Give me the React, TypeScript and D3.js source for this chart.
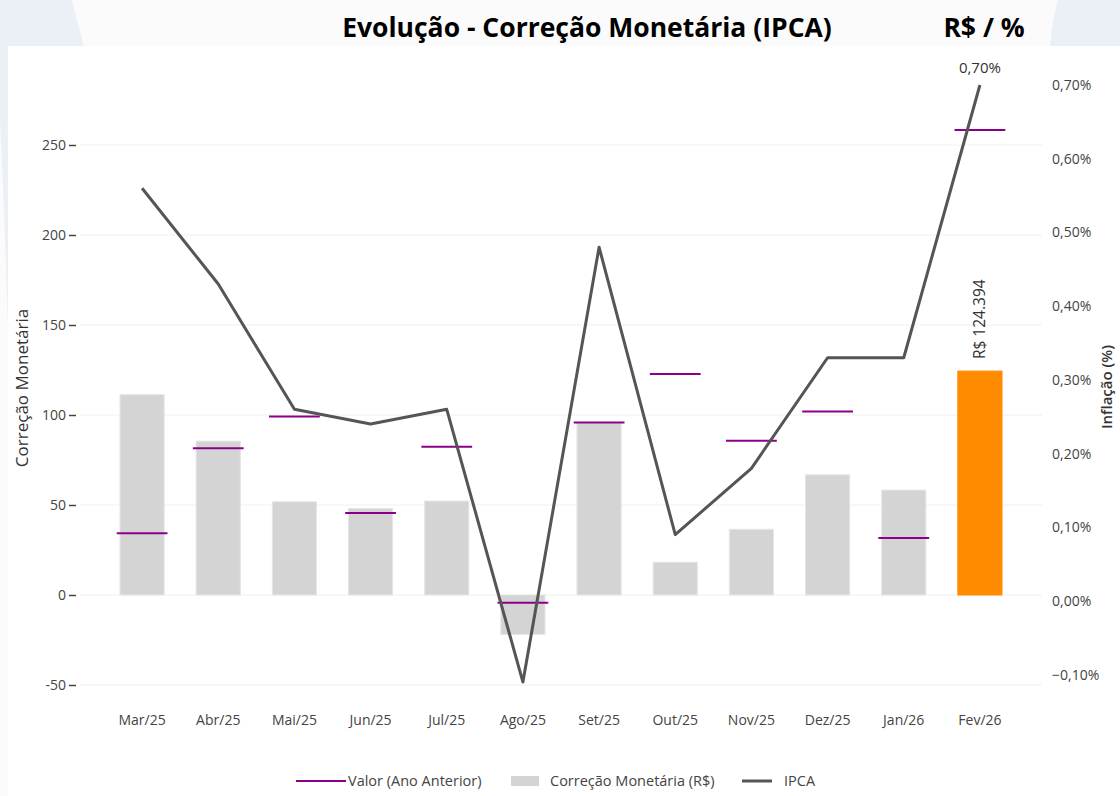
import React, { useRef, useEffect } from "react";
import * as d3 from "d3";

const months = ["Mar/25", "Abr/25", "Mai/25", "Jun/25", "Jul/25", "Ago/25", "Set/25", "Out/25", "Nov/25", "Dez/25", "Jan/26", "Fev/26"];
const correcao = [111.3, 85.5, 51.8, 48.1, 52.2, -21.9, 95.7, 18.2, 36.5, 66.8, 58.3, 124.394];
const anoAnterior = [34.3, 81.5, 99.1, 45.6, 82.4, -4.3, 95.9, 122.8, 85.7, 101.9, 31.7, 258.3];
const ipca = [0.56, 0.43, 0.26, 0.24, 0.26, -0.11, 0.48, 0.09, 0.18, 0.33, 0.33, 0.7];
const leftTicks = [-50, 0, 50, 100, 150, 200, 250];
const rightTicks = [-0.1, 0, 0.1, 0.2, 0.3, 0.4, 0.5, 0.6, 0.7];

const W = 1120;
const H = 796;
const FONT = "'Open Sans', sans-serif";

const App = () => {
  const ref = useRef<SVGSVGElement | null>(null);

  useEffect(() => {
    if (!ref.current) return;
    const svg = d3.select(ref.current);
    svg.selectAll("*").remove();

    // background + decorative shapes
    svg.append("rect").attr("width", W).attr("height", H).attr("fill", "#fbfbfc");
    svg.append("path").attr("d", "M0,0 L72,0 Q78,25 84,46 L8,46 L8,330 Q4,200 0,120 Z").attr("fill", "#ebf0f7");
    svg.append("path").attr("d", "M1058,0 L1120,0 L1120,46 L1050,46 Q1052,20 1058,0 Z").attr("fill", "#ebf0f7");
    svg.append("rect").attr("x", 8).attr("y", 46).attr("width", W - 8).attr("height", H - 46).attr("fill", "#fff");

    const x = d3.scaleBand<string>().domain(months).range([104, 1018]).paddingInner(0.42).paddingOuter(0.21);
    const y = d3.scaleLinear().domain([-50, 250]).range([685, 145]);
    const y2 = d3.scaleLinear().domain([0, 0.7]).range([601, 85]);
    const cx = (m: string) => (x(m) as number) + x.bandwidth() / 2;

    // gridlines
    svg.append("g").selectAll("line").data(leftTicks).enter().append("line")
      .attr("x1", 80).attr("x2", 1042)
      .attr("y1", (d) => y(d)).attr("y2", (d) => y(d))
      .attr("stroke", "#f0f0f0").attr("stroke-width", 1);

    // left axis
    const gl = svg.append("g").attr("transform", "translate(76,0)")
      .call(d3.axisLeft(y).tickValues(leftTicks).tickSize(7).tickPadding(3).tickFormat((d) => String(d)));
    gl.select(".domain").remove();
    gl.selectAll(".tick line").attr("stroke", "#444").attr("stroke-width", 1.5);
    gl.selectAll(".tick text").attr("fill", "#444").style("font-family", FONT).style("font-size", "14px");

    // right axis
    const fmtPct = (v: number) => d3.format(".2f")(v).replace(".", ",") + "%";
    const gr = svg.append("g").attr("transform", "translate(1048,0)")
      .call(d3.axisRight(y2).tickValues(rightTicks).tickSize(0).tickPadding(4).tickFormat((d) => fmtPct(+d)));
    gr.select(".domain").remove();
    gr.selectAll(".tick text").attr("fill", "#444").style("font-family", FONT).style("font-size", "14px");

    // x axis labels
    const gx = svg.append("g").attr("transform", "translate(0,707)")
      .call(d3.axisBottom(x).tickSize(0).tickPadding(8));
    gx.select(".domain").remove();
    gx.selectAll(".tick text").attr("fill", "#444").style("font-family", FONT).style("font-size", "14px");

    // bars
    svg.append("g").selectAll("rect").data(correcao).enter().append("rect")
      .attr("x", (_d, i) => x(months[i]) as number)
      .attr("width", x.bandwidth())
      .attr("y", (d) => y(Math.max(0, d)))
      .attr("height", (d) => Math.abs(y(d) - y(0)))
      .attr("fill", (_d, i) => (i === months.length - 1 ? "#ff8c00" : "#d4d4d4"))
      .attr("stroke", (_d, i) => (i === months.length - 1 ? "#ff8c00" : "#e6e6e6"))
      .attr("stroke-width", 1);

    // previous-year markers
    const mw = x.bandwidth() * 1.15;
    svg.append("g").selectAll("line").data(anoAnterior).enter().append("line")
      .attr("x1", (_d, i) => cx(months[i]) - mw / 2)
      .attr("x2", (_d, i) => cx(months[i]) + mw / 2)
      .attr("y1", (d) => y(d)).attr("y2", (d) => y(d))
      .attr("stroke", "#8b008b").attr("stroke-width", 2);

    // IPCA line
    const line = d3.line<number>().x((_d, i) => cx(months[i])).y((d) => y2(d));
    svg.append("path").datum(ipca).attr("d", line)
      .attr("fill", "none").attr("stroke", "#555").attr("stroke-width", 3).attr("stroke-linejoin", "round");

    // labels on last month
    const last = months.length - 1;
    svg.append("text").attr("x", cx(months[last])).attr("y", y2(ipca[last]) - 12)
      .attr("text-anchor", "middle").attr("fill", "#333").style("font-family", FONT).style("font-size", "15px")
      .text(fmtPct(ipca[last]));
    svg.append("text")
      .attr("transform", `translate(${cx(months[last]) + 5},${y(correcao[last]) - 12}) rotate(-90)`)
      .attr("text-anchor", "start").attr("fill", "#333").style("font-family", FONT).style("font-size", "15.5px")
      .text("R$ " + d3.format(".3f")(correcao[last]));

    // axis titles
    svg.append("text").attr("transform", "translate(28,388) rotate(-90)")
      .attr("text-anchor", "middle").attr("fill", "#333").style("font-family", FONT).style("font-size", "17px")
      .text("Correção Monetária");
    svg.append("text").attr("transform", "translate(1112,387) rotate(-90)")
      .attr("text-anchor", "middle").attr("fill", "#333").style("font-family", FONT).style("font-size", "15px").style("font-weight", "600")
      .text("Inflação (%)");

    // title
    svg.append("text").attr("x", 587).attr("y", 37).attr("text-anchor", "middle")
      .style("font-family", FONT).style("font-size", "26.5px").style("font-weight", "bold").attr("fill", "#000")
      .text("Evolução - Correção Monetária (IPCA)");
    svg.append("text").attr("x", 984).attr("y", 37).attr("text-anchor", "middle")
      .style("font-family", FONT).style("font-size", "26.5px").style("font-weight", "bold").attr("fill", "#000")
      .text("R$ / %");

    // legend
    const lg = svg.append("g").style("font-family", FONT).style("font-size", "14.5px");
    lg.append("line").attr("x1", 296).attr("x2", 346).attr("y1", 781).attr("y2", 781).attr("stroke", "#8b008b").attr("stroke-width", 2);
    lg.append("text").attr("x", 348).attr("y", 786).attr("fill", "#444").text("Valor (Ano Anterior)");
    lg.append("rect").attr("x", 511).attr("y", 776).attr("width", 28).attr("height", 10).attr("fill", "#d4d4d4");
    lg.append("text").attr("x", 550).attr("y", 786).attr("fill", "#444").text("Correção Monetária (R$)");
    lg.append("line").attr("x1", 742).attr("x2", 772).attr("y1", 781).attr("y2", 781).attr("stroke", "#555").attr("stroke-width", 3);
    lg.append("text").attr("x", 784).attr("y", 786).attr("fill", "#444").text("IPCA");
  }, []);

  return (
    <svg ref={ref} width={W} height={H} style={{ position: "absolute", left: 0, top: 0, display: "block" }} />
  );
};

export default App;
